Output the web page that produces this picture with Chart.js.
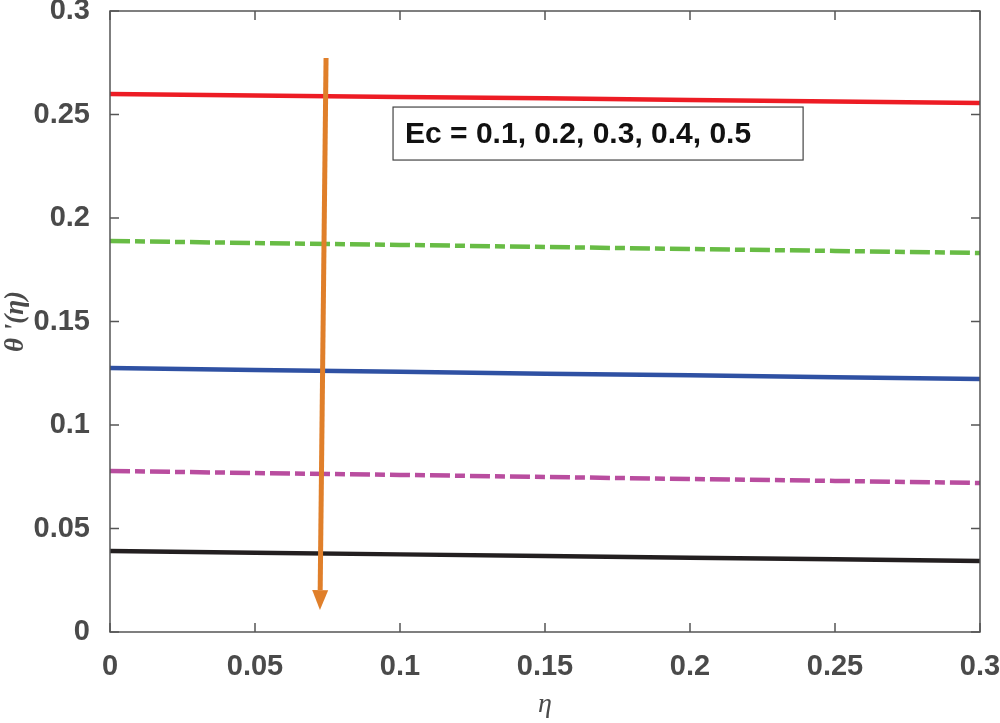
<!DOCTYPE html>
<html>
<head>
<meta charset="utf-8">
<script src="https://cdn.jsdelivr.net/npm/chart.js@4/dist/chart.umd.min.js"></script>
<style>
  html, body { margin: 0; padding: 0; background: #fff; }
  #wrap { width: 1000px; height: 723px; }
</style>
</head>
<body>
<div id="wrap"><canvas id="canvas" width="1000" height="723"></canvas></div>
<script>
// eta grid and curves
var eta = [0, 0.05, 0.1, 0.15, 0.2, 0.25, 0.3];
var ec01 = [0.2599, 0.2592, 0.2585, 0.2578, 0.2570, 0.2563, 0.2556];
var ec02 = [0.1889, 0.1879, 0.1870, 0.1860, 0.1850, 0.1841, 0.1831];
var ec03 = [0.1275, 0.1266, 0.1257, 0.1248, 0.1240, 0.1231, 0.1222];
var ec04 = [0.0778, 0.0768, 0.0759, 0.0749, 0.0739, 0.0730, 0.0720];
var ec05 = [0.0391, 0.0383, 0.0375, 0.0367, 0.0359, 0.0351, 0.0343];
var xTicks = [0, 0.05, 0.1, 0.15, 0.2, 0.25, 0.3];
var yTicks = [0, 0.05, 0.1, 0.15, 0.2, 0.25, 0.3];
var legendText = 'Ec = 0.1, 0.2, 0.3, 0.4, 0.5';
// arrow from (x,y) to (x,y) in data units
var arrowStart = [0.0745, 0.2773];
var arrowEnd = [0.0724, 0.0106];
// text box corners in data units
var boxCorners = [0.0976, 0.2536, 0.2390, 0.2280];

var FONT = '"Liberation Sans", Arial, sans-serif';
var GREY = '#4a4a4a';

function pts(ys) {
   return eta.map(function (x, i) { return {x: x, y: ys[i]}; });
}

function fmt(v) {
   return String(Math.round(v * 100) / 100);
}

var extras = {
   id: 'extras',
   afterDatasetsDraw: function (chart) {
      var ctx = chart.ctx, a = chart.chartArea;
      var xs = chart.scales.x, ys = chart.scales.y;
      ctx.save();

      // box around the plot
      ctx.strokeStyle = '#555';
      ctx.lineWidth = 1.5;
      ctx.strokeRect(a.left, a.top, a.right - a.left, a.bottom - a.top);

      // inward ticks on all four sides
      ctx.beginPath();
      xTicks.forEach(function (v) {
         var px = xs.getPixelForValue(v);
         ctx.moveTo(px, a.bottom); ctx.lineTo(px, a.bottom - 9);
         ctx.moveTo(px, a.top); ctx.lineTo(px, a.top + 9);
      });
      yTicks.forEach(function (v) {
         var py = ys.getPixelForValue(v);
         ctx.moveTo(a.left, py); ctx.lineTo(a.left + 9, py);
         ctx.moveTo(a.right, py); ctx.lineTo(a.right - 9, py);
      });
      ctx.stroke();

      // text box
      var bx1 = xs.getPixelForValue(boxCorners[0]), by1 = ys.getPixelForValue(boxCorners[1]);
      var bx2 = xs.getPixelForValue(boxCorners[2]), by2 = ys.getPixelForValue(boxCorners[3]);
      ctx.fillStyle = '#fff';
      ctx.fillRect(bx1, by1, bx2 - bx1, by2 - by1);
      ctx.strokeStyle = '#444';
      ctx.lineWidth = 1.2;
      ctx.strokeRect(bx1, by1, bx2 - bx1, by2 - by1);
      ctx.fillStyle = '#111';
      ctx.font = 'bold 30px ' + FONT;
      ctx.textBaseline = 'middle';
      ctx.fillText(legendText, bx1 + 12, (by1 + by2) / 2 + 1);

      // orange arrow
      var x1 = xs.getPixelForValue(arrowStart[0]), y1 = ys.getPixelForValue(arrowStart[1]);
      var x2 = xs.getPixelForValue(arrowEnd[0]), y2 = ys.getPixelForValue(arrowEnd[1]);
      var ang = Math.atan2(y2 - y1, x2 - x1);
      var headLen = 20, headW = 8;
      var bxh = x2 - headLen * Math.cos(ang), byh = y2 - headLen * Math.sin(ang);
      ctx.strokeStyle = '#e07f2a';
      ctx.fillStyle = '#e07f2a';
      ctx.lineWidth = 5;
      ctx.beginPath();
      ctx.moveTo(x1, y1); ctx.lineTo(bxh, byh);
      ctx.stroke();
      ctx.beginPath();
      ctx.moveTo(x2, y2);
      ctx.lineTo(bxh + headW * Math.sin(ang), byh - headW * Math.cos(ang));
      ctx.lineTo(bxh - headW * Math.sin(ang), byh + headW * Math.cos(ang));
      ctx.closePath();
      ctx.fill();

      ctx.restore();
   }
};

function line(label, ys, color, dash) {
   return {
      label: label,
      data: pts(ys),
      borderColor: color,
      backgroundColor: color,
      borderWidth: 4.5,
      borderDash: dash || [],
      pointRadius: 0,
      fill: false,
      tension: 0
   };
}

var config = {
   type: 'line',
   data: {
      datasets: [
         line('Ec = 0.1', ec01, '#ed1c24'),
         line('Ec = 0.2', ec02, '#68bc45', [20, 5, 10, 5]),
         line('Ec = 0.3', ec03, '#2f51a3'),
         line('Ec = 0.4', ec04, '#b94d9f', [20, 5, 10, 5]),
         line('Ec = 0.5', ec05, '#231f20')
      ]
   },
   options: {
      responsive: false,
      animation: false,
      layout: { padding: { top: 11, right: 20, left: 0, bottom: 0 } },
      plugins: {
         legend: { display: false },
         tooltip: { enabled: false }
      },
      scales: {
         x: {
            type: 'linear',
            min: 0, max: 0.3,
            afterBuildTicks: function (s) { s.ticks = xTicks.map(function (v) { return {value: v}; }); },
            afterFit: function (s) { s.height = 91; s.paddingLeft = 0; s.paddingRight = 0; },
            grid: { display: false },
            border: { display: false },
            ticks: {
               color: GREY, padding: 10,
               font: { family: FONT, size: 29, weight: 'bold' },
               callback: function (v) { return fmt(v); },
               maxRotation: 0
            },
            title: {
               display: true, text: 'η', color: GREY,
               font: { family: 'Times New Roman, "Liberation Serif", serif', size: 28, style: 'italic' },
               padding: { top: 0, bottom: 2 }
            }
         },
         y: {
            type: 'linear',
            min: 0, max: 0.3,
            afterBuildTicks: function (s) { s.ticks = yTicks.map(function (v) { return {value: v}; }); },
            afterFit: function (s) { s.width = 110; s.paddingTop = 0; s.paddingBottom = 0; },
            grid: { display: false },
            border: { display: false },
            ticks: {
               color: GREY, padding: 12,
               font: { family: FONT, size: 29, weight: 'bold' },
               callback: function (v) { return fmt(v); }
            },
            title: {
               display: true, text: "θ '(η)", color: GREY,
               font: { family: 'Times New Roman, "Liberation Serif", serif', size: 27, style: 'italic', weight: 'bold' },
               padding: { top: 0, bottom: 0 }
            }
         }
      }
   },
   plugins: [extras]
};

window.myChart = new Chart(document.getElementById('canvas'), config);
</script>
</body>
</html>
